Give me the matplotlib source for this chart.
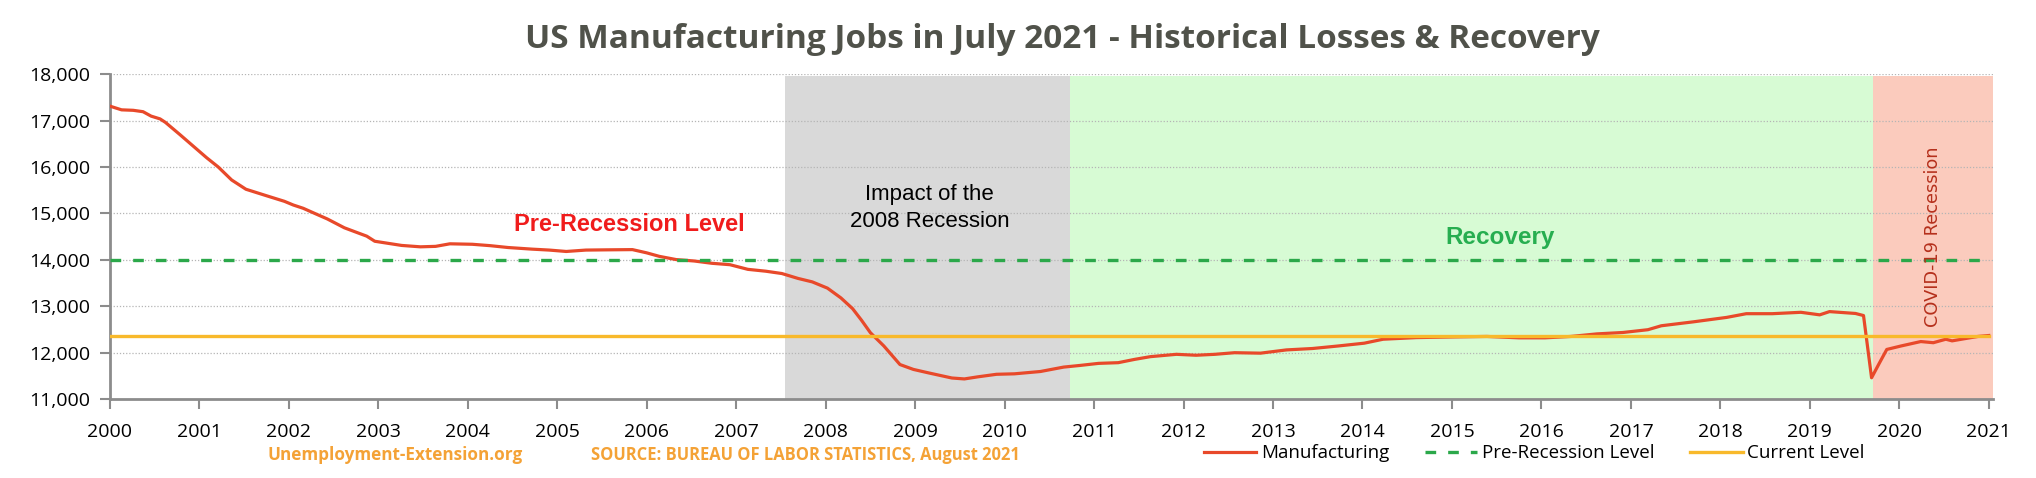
import numpy as np
import matplotlib
matplotlib.use("Agg")
import matplotlib.pyplot as plt
from matplotlib.ticker import FuncFormatter

# manufacturing jobs (thousands)
years = [2000.00, 2000.13, 2000.26, 2000.37, 2000.46, 2000.56, 2000.62, 2000.78, 2000.93,
         2001.08, 2001.21, 2001.36, 2001.52, 2001.75, 2001.95, 2002.05, 2002.16, 2002.30,
         2002.43, 2002.62, 2002.80, 2002.87, 2002.96, 2003.26, 2003.47, 2003.64, 2003.80,
         2004.05, 2004.25, 2004.45, 2004.72, 2004.91, 2005.10, 2005.32, 2005.55, 2005.84,
         2006.00, 2006.14, 2006.33, 2006.53, 2006.73, 2006.93, 2007.13, 2007.33, 2007.51,
         2007.69, 2007.85, 2008.02, 2008.17, 2008.30, 2008.40, 2008.50, 2008.65, 2008.83,
         2008.98, 2009.15, 2009.41, 2009.55, 2009.70, 2009.91, 2010.11, 2010.40, 2010.66,
         2010.84, 2011.05, 2011.27, 2011.45, 2011.63, 2011.92, 2012.14, 2012.35, 2012.57,
         2012.86, 2013.15, 2013.44, 2013.73, 2014.02, 2014.23, 2014.60, 2015.03, 2015.39,
         2015.75, 2016.04, 2016.33, 2016.62, 2016.91, 2017.19, 2017.34, 2017.70, 2018.07,
         2018.29, 2018.58, 2018.90, 2019.11, 2019.22, 2019.51, 2019.60, 2019.69, 2019.77,
         2019.86, 2020.02, 2020.24, 2020.38, 2020.52, 2020.59, 2020.74, 2020.88, 2021.00]
jobs = [17310, 17230, 17220, 17190, 17095, 17035, 16960, 16700, 16450,
        16200, 16000, 15720, 15520, 15380, 15260, 15180, 15110, 14990,
        14880, 14690, 14560, 14510, 14400, 14310, 14280, 14290, 14345,
        14335, 14305, 14265, 14230, 14210, 14180, 14210, 14215, 14220,
        14150, 14075, 14005, 13975, 13925, 13895, 13795, 13755, 13705,
        13600, 13525, 13390, 13180, 12950, 12700, 12430, 12145, 11745,
        11640, 11565, 11455, 11435, 11480, 11535, 11545, 11595, 11690,
        11725, 11770, 11785, 11855, 11915, 11965, 11945, 11965, 12000,
        11990, 12060, 12090, 12145, 12205, 12290, 12325, 12340, 12350,
        12320, 12320, 12350, 12405, 12435, 12495, 12580, 12665, 12760,
        12840, 12840, 12870, 12815, 12885, 12845, 12800, 11460, 11750,
        12070, 12145, 12240, 12215, 12290, 12255, 12305, 12350, 12370]

pre_recession_level = 14000
current_level = 12370

# shaded periods
recession_2008 = (2007.55, 2010.73)
recovery = (2010.73, 2019.71)
covid = (2019.71, 2021.05)

year_ticks = list(range(2000, 2022))
job_ticks = list(range(11000, 18001, 1000))

calibri_like = ["Open Sans", "DejaVu Sans"]
arial_like = ["Liberation Sans", "DejaVu Sans"]

fig = plt.figure(figsize=(20.36, 4.78), dpi=100)
ax = fig.add_axes([0.054, 0.165, 0.925, 0.68])

top_shade = 17960
ax.fill_between(recession_2008, 11000, top_shade, color="#d9d9d9", lw=0, zorder=0)
ax.fill_between(recovery, 11000, top_shade, color="#d7fbd4", lw=0, zorder=0)
ax.fill_between(covid, 11000, top_shade, color="#fbcbbd", lw=0, zorder=0)

for v in job_ticks[1:]:
    ax.axhline(v, color="#b5b5b5", lw=0.9, ls=(0, (1, 1.5)), zorder=1)

ax.plot(years, jobs, color="#e8492a", lw=2.3, label="Manufacturing", zorder=3)
ax.plot([2000, 2020.93], [pre_recession_level] * 2, color="#2ba84a", lw=2.4,
        dashes=(3.2, 3.6), label="Pre-Recession Level", zorder=4)
ax.plot([2000, 2021.0], [current_level] * 2, color="#f8b92b", lw=2.4,
        label="Current Level", zorder=5)

ax.set_xlim(2000, 2021.05)
ax.set_ylim(11000, 18000)
ax.set_xticks(year_ticks)
ax.set_xticklabels([str(y) for y in year_ticks])
ax.set_yticks(job_ticks)
ax.yaxis.set_major_formatter(FuncFormatter(lambda v, p: f"{int(v):,}"))

for s in ["top", "right"]:
    ax.spines[s].set_visible(False)
for s in ["left", "bottom"]:
    ax.spines[s].set_color("#8c8c8c")
    ax.spines[s].set_linewidth(2)
ax.tick_params(axis="both", colors="#8c8c8c", width=1.5, length=7, labelcolor="black")
ax.tick_params(axis="x", pad=10)
ax.tick_params(axis="y", pad=7)
for lab in ax.get_xticklabels() + ax.get_yticklabels():
    lab.set_family(calibri_like)
    lab.set_fontsize(14)

# annotations
ax.text(2005.80, 14760, "Pre-Recession Level", color="#f01c1c", fontsize=17,
        fontweight="bold", family=arial_like, ha="center", va="center", zorder=6)
ax.text(2009.16, 15110, "Impact of the\n2008 Recession", color="black", fontsize=16,
        family=arial_like, ha="center", va="center", linespacing=1.35, zorder=6)
ax.text(2015.54, 14480, "Recovery", color="#27ae50", fontsize=17.5,
        fontweight="bold", family=arial_like, ha="center", va="center", zorder=6)
ax.text(2020.38, 14500, "COVID-19 Recession", color="#b5301c", fontsize=12.8,
        family=["DejaVu Sans"], rotation=90, ha="center", va="center", zorder=6)

fig.text(0.522, 0.918, "US Manufacturing Jobs in July 2021 - Historical Losses & Recovery",
         color="#50524a", fontsize=24, fontweight="bold", family=calibri_like,
         ha="center", va="center")

fig.text(0.194, 0.048, "Unemployment-Extension.org", color="#f4a236", fontsize=12.3,
         fontweight="bold", family=calibri_like, ha="center", va="center")
fig.text(0.3955, 0.048, "SOURCE: BUREAU OF LABOR STATISTICS, August 2021", color="#f4a236",
         fontsize=11.9, fontweight="bold", family=calibri_like, ha="center", va="center")

leg = fig.legend(loc="center", bbox_to_anchor=(0.7536, 0.052), ncol=3, frameon=False,
                 handlelength=2.8, handletextpad=0.25, columnspacing=1.9,
                 prop={"family": calibri_like, "size": 13.5})

fig.savefig("out.png", dpi=100)
